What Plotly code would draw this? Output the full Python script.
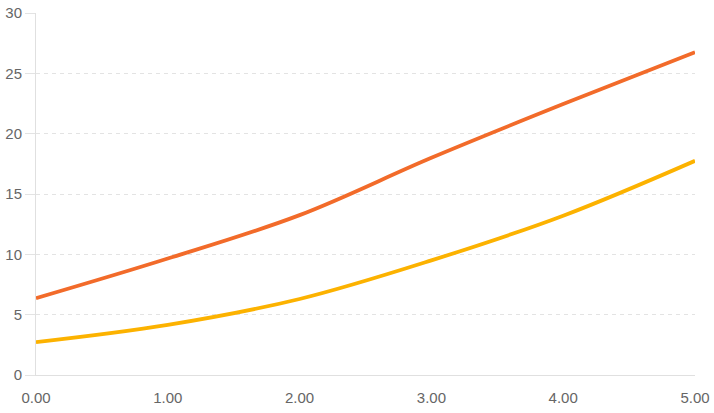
import plotly.graph_objects as go

x_vals = [0, 1, 2, 3, 4, 5]
series_a = [6.36, 9.65, 13.25, 18.0, 22.45, 26.75]
series_b = [2.72, 4.15, 6.3, 9.5, 13.2, 17.75]
y_ticks = [0, 5, 10, 15, 20, 25, 30]

fig = go.Figure()
fig.add_trace(go.Scatter(x=x_vals, y=series_a, mode='lines',
                         line=dict(color='#f26b2a', width=3.8, shape='spline', smoothing=1.0)))
fig.add_trace(go.Scatter(x=x_vals, y=series_b, mode='lines',
                         line=dict(color='#fcb200', width=3.8, shape='spline', smoothing=1.0)))

fig.update_layout(
    width=714, height=413,
    margin=dict(l=36, r=19, t=13, b=38),
    plot_bgcolor='white', paper_bgcolor='white',
    showlegend=False,
    font=dict(family='Liberation Sans, Arial, sans-serif', size=15, color='#666666'),
)
fig.update_xaxes(range=[0, 5], tickvals=x_vals, ticktext=['%.2f' % v for v in x_vals],
                 showgrid=False, zeroline=False, showline=True, linecolor='#e0e0e0',
                 linewidth=1, ticks='outside', ticklen=9, tickcolor='rgba(0,0,0,0)',
                 automargin=False, ticklabeloverflow='allow')
fig.update_yaxes(range=[0, 30], tickvals=y_ticks, showgrid=True, gridcolor='#e3e3e3',
                 griddash='4px,4px', gridwidth=1, zeroline=False, showline=True,
                 linecolor='#e0e0e0', linewidth=1, ticks='outside', ticklen=10,
                 tickcolor='#e3e3e3', automargin=False, ticklabeloverflow='allow')

# drop the default 8px body margin so the figure sits at the window corner
fig.write_html("out.html", config={'displayModeBar': False},
               post_script="document.body.style.margin='0';")
